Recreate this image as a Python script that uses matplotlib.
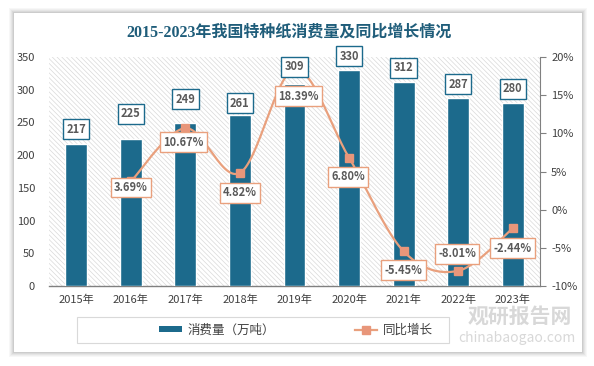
import numpy as np
import matplotlib
matplotlib.use("Agg")
import matplotlib.pyplot as plt
from matplotlib.patches import Rectangle, Patch
from matplotlib.lines import Line2D

plt.rcParams['font.family'] = ['Noto Sans CJK SC', 'DejaVu Sans']
plt.rcParams['hatch.color'] = '#d9d9d9'
plt.rcParams['hatch.linewidth'] = 0.5

years = ['2015年', '2016年', '2017年', '2018年', '2019年', '2020年', '2021年', '2022年', '2023年']
consumption = [217, 225, 249, 261, 309, 330, 312, 287, 280]
growth = [None, 3.69, 10.67, 4.82, 18.39, 6.80, -5.45, -8.01, -2.44]
growth_labels = ['', '3.69%', '10.67%', '4.82%', '18.39%', '6.80%', '-5.45%', '-8.01%', '-2.44%']

# label offsets in pixels (dx, dy) relative to the mark
bar_label_dy = [15, 25, 24, 12, 17, 14, 14, 14, 14]
line_label_off = [(0, 0), (0, -6), (-2, -14), (0, -20), (4, -27), (-1, -19), (0, -19), (-1, 17), (0, -20)]

bar_color = '#1c6a8c'
line_color = '#e9a07d'
marker_color = '#e8967a'
title_color = '#1f5d7a'
text_gray = '#595959'

fig = plt.figure(figsize=(5.94, 3.66), dpi=100)
fig.patch.set_facecolor('white')

# card with soft shadow
for i, a in enumerate([0.03, 0.03, 0.04, 0.05, 0.06]):
    g = 5 - i
    fig.patches.append(Rectangle(((14 - g) / 594, 1 - (352 + g) / 366),
                                 (568 + 2 * g) / 594, (339 + 2 * g) / 366,
                                 transform=fig.transFigure, facecolor='black',
                                 alpha=a, edgecolor='none', zorder=0))
fig.patches.append(Rectangle((14 / 594, 1 - 352 / 366), 568 / 594, 339 / 366,
                             transform=fig.transFigure, facecolor='white',
                             edgecolor='none', zorder=1))

ax = fig.add_axes([49 / 594, 1 - 286 / 366, 491 / 594, 229 / 366])
ax.set_zorder(2)
ax.patch.set_facecolor('white')
ax.patch.set_hatch('\\' * 7)
ax.patch.set_edgecolor('#d9d9d9')
ax.patch.set_linewidth(0)

x = np.arange(len(years))
ax.bar(x, consumption, width=0.4, color=bar_color, edgecolor='white', linewidth=1.0, zorder=3)
ax.set_xlim(-0.5, len(years) - 0.5)
ax.set_ylim(0, 350)
ax.set_yticks(np.arange(0, 351, 50))
ax.set_xticks(x)
ax.set_xticklabels(years)
ax.tick_params(axis='y', length=0, pad=10, labelsize=8, labelcolor='#404040')
ax.tick_params(axis='x', length=0, pad=6, labelsize=8, labelcolor='#404040')
for s in ['top', 'left', 'right']:
    ax.spines[s].set_visible(False)
ax.spines['bottom'].set_color('#808080')
ax.spines['bottom'].set_linewidth(1.0)

ax2 = ax.twinx()
ax2.set_ylim(-10, 20)
ax2.set_yticks(np.arange(-10, 21, 5))
ax2.set_yticklabels([f'{t}%' for t in range(-10, 21, 5)])
ax2.tick_params(axis='y', length=4, width=0.8, color='#808080', pad=4,
                labelsize=8, labelcolor='#404040', direction='out')
for s in ['top', 'left', 'bottom']:
    ax2.spines[s].set_visible(False)
ax2.spines['right'].set_color('#808080')
ax2.spines['right'].set_linewidth(0.8)

# smoothed line through growth points (Excel style bezier)
gx = np.array([x[i] for i in range(len(growth)) if growth[i] is not None], dtype=float)
gy = np.array([g for g in growth if g is not None], dtype=float)
pts = np.column_stack([gx, gy])
curve = []
t = np.linspace(0, 1, 30)[:, None]
for i in range(len(pts) - 1):
    p0 = pts[i - 1] if i > 0 else pts[i]
    p1 = pts[i]
    p2 = pts[i + 1]
    p3 = pts[i + 2] if i + 2 < len(pts) else pts[i + 1]
    c1 = p1 + (p2 - p0) / 6
    c2 = p2 - (p3 - p1) / 6
    seg = ((1 - t) ** 3) * p1 + 3 * ((1 - t) ** 2) * t * c1 + 3 * (1 - t) * t ** 2 * c2 + t ** 3 * p2
    curve.append(seg)
curve = np.vstack(curve)
ax2.plot(curve[:, 0], curve[:, 1], color=line_color, linewidth=1.6, zorder=4)
ax2.plot(gx, gy, linestyle='none', marker='s', markersize=6, color=marker_color, zorder=5)

# bar labels drawn on ax2 so they sit above the line
for i, v in enumerate(consumption):
    ax2.annotate(str(v), (x[i], v), xycoords=ax.transData,
                 xytext=(0, bar_label_dy[i] * 0.72),
                 textcoords='offset points', ha='center', va='center',
                 fontsize=8, fontweight='bold', color=text_gray, zorder=6,
                 bbox=dict(boxstyle='square,pad=0.3', facecolor='white',
                           edgecolor=bar_color, linewidth=1.0))

for i, g in enumerate(growth):
    if g is None:
        continue
    dx, dy = line_label_off[i]
    ax2.annotate(growth_labels[i], (x[i], g), xytext=(dx * 0.72, dy * 0.72),
                 textcoords='offset points', ha='center', va='center',
                 fontsize=8, fontweight='bold', color=text_gray, zorder=7,
                 bbox=dict(boxstyle='square,pad=0.3', facecolor='white',
                           edgecolor=line_color, linewidth=1.0))

fig.text(289 / 594, 1 - 33 / 366, '2015-2023年我国特种纸消费量及同比增长情况',
         ha='center', va='center', fontsize=11.5, fontweight='bold', color=title_color,
         family=['Liberation Serif', 'Noto Sans CJK SC'], zorder=3)

# legend frame drawn separately, entries spread out like the original
fig.patches.append(Rectangle((77 / 594, 1 - 343 / 366), 372 / 594, 26 / 366,
                             transform=fig.transFigure, facecolor='white',
                             edgecolor='#d9d9d9', linewidth=0.8, zorder=2))
handles = [Patch(facecolor=bar_color, edgecolor='none'),
           Line2D([0], [0], color=line_color, linewidth=1.6, marker='s',
                  markersize=6, markerfacecolor=marker_color, markeredgecolor=marker_color)]
leg = fig.legend(handles, ['消费量（万吨）', '同比增长'], loc='center',
                 bbox_to_anchor=(296 / 594, 1 - 330 / 366), ncol=2, frameon=False,
                 fontsize=9, columnspacing=6.4, handlelength=1.8, handleheight=0.45,
                 handletextpad=0.45, borderpad=0.3)
leg.set_zorder(3)
for txt in leg.get_texts():
    txt.set_color('#404040')

# watermark
fig.text(520 / 594, 1 - 316 / 366, '观研报告网', ha='center', va='center', fontsize=15,
         fontweight='bold', color='#c8c8c8', alpha=0.7, zorder=8)
fig.text(517 / 594, 1 - 338 / 366, 'chinabaogao.com', ha='center', va='center', fontsize=10,
         color='#c8c8c8', alpha=0.7, zorder=8)

fig.savefig('out.png', dpi=100, facecolor=fig.get_facecolor())
